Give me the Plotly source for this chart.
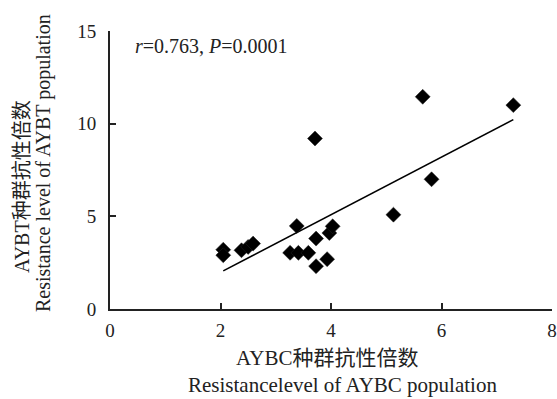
import numpy as np
import plotly.graph_objects as go

# Data
aybc = [2.05, 2.05, 2.38, 2.50, 2.59, 3.26, 3.38, 3.41, 3.59, 3.71,
        3.73, 3.73, 3.93, 3.97, 4.03, 5.13, 5.66, 5.82, 7.30]
aybt = [3.20, 2.90, 3.17, 3.35, 3.53, 3.03, 4.48, 3.03, 3.03, 9.20,
        3.80, 2.31, 2.69, 4.10, 4.46, 5.09, 11.45, 7.00, 11.00]
x_ticks = [0, 2, 4, 6, 8]
y_ticks = [0, 5, 10, 15]
stat_text = "<i>r</i>=0.763, <i>P</i>=0.0001"

slope, intercept = np.polyfit(aybc, aybt, 1)
fx = [min(aybc), max(aybc)]
fy = [slope * v + intercept for v in fx]

SERIF = "Liberation Serif, Times New Roman, serif"
CJK = "Liberation Serif, Noto Sans CJK SC, serif"

fig = go.Figure()
fig.add_trace(go.Scatter(x=fx, y=fy, mode="lines",
                         line=dict(color="black", width=1.6),
                         showlegend=False, hoverinfo="skip"))
fig.add_trace(go.Scatter(x=aybc, y=aybt, mode="markers",
                         marker=dict(symbol="diamond", size=11.5, color="black",
                                     line=dict(color="#222", width=0.5)),
                         showlegend=False))

axis_common = dict(showline=True, linecolor="#222", linewidth=2,
                   ticks="inside", ticklen=6, tickwidth=2, tickcolor="#222",
                   showgrid=False, zeroline=False,
                   tickfont=dict(family=SERIF, size=19, color="#222"))
fig.update_xaxes(range=[0, 8], tickvals=x_ticks, ticklabelstandoff=3, **axis_common)
fig.update_yaxes(range=[0, 15], tickvals=y_ticks, ticklabelstandoff=8, **axis_common)

anns = [
    dict(text=stat_text, x=0.052, y=0.946, xref="paper", yref="paper",
         xanchor="left", yanchor="middle", showarrow=False,
         font=dict(family=SERIF, size=20, color="#222")),
    dict(text="AYBC种群抗性倍数", x=0.491, y=0, xref="paper", yref="paper",
         xanchor="center", yanchor="middle", yshift=-49, showarrow=False,
         font=dict(family=CJK, size=21, color="#222")),
    dict(text="Resistancelevel of AYBC population", x=0.525, y=0, xref="paper", yref="paper",
         xanchor="center", yanchor="middle", yshift=-76, showarrow=False,
         font=dict(family=SERIF, size=21, color="#222")),
    dict(text="AYBT种群抗性倍数", x=0, y=0.439, xref="paper", yref="paper",
         xanchor="center", yanchor="middle", xshift=-88, textangle=-90, showarrow=False,
         font=dict(family=CJK, size=20, color="#222")),
    dict(text="Resistance level of AYBT population", x=0, y=0.525, xref="paper", yref="paper",
         xanchor="center", yanchor="middle", xshift=-67, textangle=-90, showarrow=False,
         font=dict(family=SERIF, size=20, color="#222")),
]

fig.update_layout(width=557, height=399,
                  margin=dict(l=110, r=5, t=31, b=90, autoexpand=False),
                  plot_bgcolor="white", paper_bgcolor="white",
                  annotations=anns)

fig.write_html("out.html", config={"displayModeBar": False},
               post_script="document.body.style.margin='0';document.body.style.padding='0';")
